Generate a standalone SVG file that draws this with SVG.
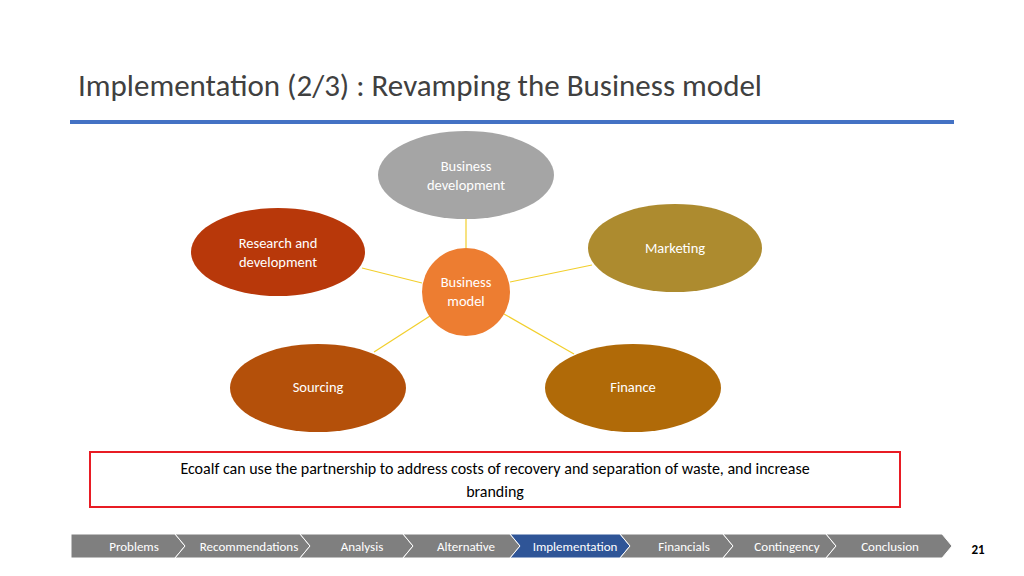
<svg xmlns="http://www.w3.org/2000/svg" width="1024" height="576" viewBox="0 0 1024 576">
<style>
text{font-family:Calibri,"Liberation Sans",sans-serif}
.nt{fill:#fff;font-size:14.5px;text-anchor:middle}
.nav{fill:#fff;font-size:13px;text-anchor:middle}
.seg{fill:#7f7f7f;stroke:#fff;stroke-width:1}
.c{stroke:#f2cf2c;stroke-width:1.2}
</style>
<rect width="1024" height="576" fill="#fff"/>
<text x="78" y="96" font-size="31" fill="#404040">Implementation (2/3) : Revamping the Business model</text>
<rect x="70" y="120" width="884" height="4" fill="#4472c4"/>
<g id="connectors">
<line class="c" x1="466" y1="218" x2="466" y2="248"/>
<line class="c" x1="362" y1="268" x2="422" y2="283"/>
<line class="c" x1="510" y1="282" x2="592" y2="265"/>
<line class="c" x1="430" y1="316" x2="374" y2="352"/>
<line class="c" x1="504" y1="314" x2="574" y2="354"/>
</g>
<g id="bd"><ellipse cx="466" cy="175" rx="88" ry="44" fill="#a5a5a5"/><text class="nt" x="466" y="171">Business</text><text class="nt" x="466" y="190">development</text></g>
<g id="rd"><ellipse cx="278" cy="252" rx="87" ry="44" fill="#b8380a"/><text class="nt" x="278" y="248">Research and</text><text class="nt" x="278" y="267">development</text></g>
<g id="mk"><ellipse cx="675" cy="248" rx="87" ry="44" fill="#ad8b2f"/><text class="nt" x="675" y="253">Marketing</text></g>
<g id="bm"><circle cx="466" cy="292" r="44" fill="#ed7d31"/><text class="nt" x="466" y="287">Business</text><text class="nt" x="466" y="306">model</text></g>
<g id="so"><ellipse cx="318" cy="388" rx="88" ry="44" fill="#b4500a"/><text class="nt" x="318" y="392">Sourcing</text></g>
<g id="fi"><ellipse cx="633" cy="388" rx="88" ry="44" fill="#b06a08"/><text class="nt" x="633" y="392">Finance</text></g>
<g id="note"><rect x="90" y="452" width="810" height="55" fill="#fff" stroke="#e81c24" stroke-width="2"/>
<text x="495" y="474" font-size="16" text-anchor="middle" fill="#000">Ecoalf can use the partnership to address costs of recovery and separation of waste, and increase</text>
<text x="495" y="497" font-size="16" text-anchor="middle" fill="#000">branding</text></g>
<g id="nav">
<polygon class="seg" points="71,534 175,534 185,546 175,558 71,558"/>
<polygon class="seg" points="175,534 300,534 310,546 300,558 175,558 185,546"/>
<polygon class="seg" points="300,534 403,534 413,546 403,558 300,558 310,546"/>
<polygon class="seg" points="403,534 510,534 520,546 510,558 403,558 413,546"/>
<polygon class="seg" style="fill:#2f5597" points="510,534 620,534 630,546 620,558 510,558 520,546"/>
<polygon class="seg" points="620,534 723,534 733,546 723,558 620,558 630,546"/>
<polygon class="seg" points="723,534 826,534 836,546 826,558 723,558 733,546"/>
<polygon class="seg" points="826,534 942,534 952,546 942,558 826,558 836,546"/>
<text class="nav" x="134" y="551">Problems</text>
<text class="nav" x="249" y="551">Recommendations</text>
<text class="nav" x="362" y="551">Analysis</text>
<text class="nav" x="466" y="551">Alternative</text>
<text class="nav" x="575" y="551">Implementation</text>
<text class="nav" x="684" y="551">Financials</text>
<text class="nav" x="787" y="551">Contingency</text>
<text class="nav" x="890" y="551">Conclusion</text>
<text x="978" y="554" font-size="13" font-weight="bold" text-anchor="middle" fill="#000">21</text>
</g>
</svg>
